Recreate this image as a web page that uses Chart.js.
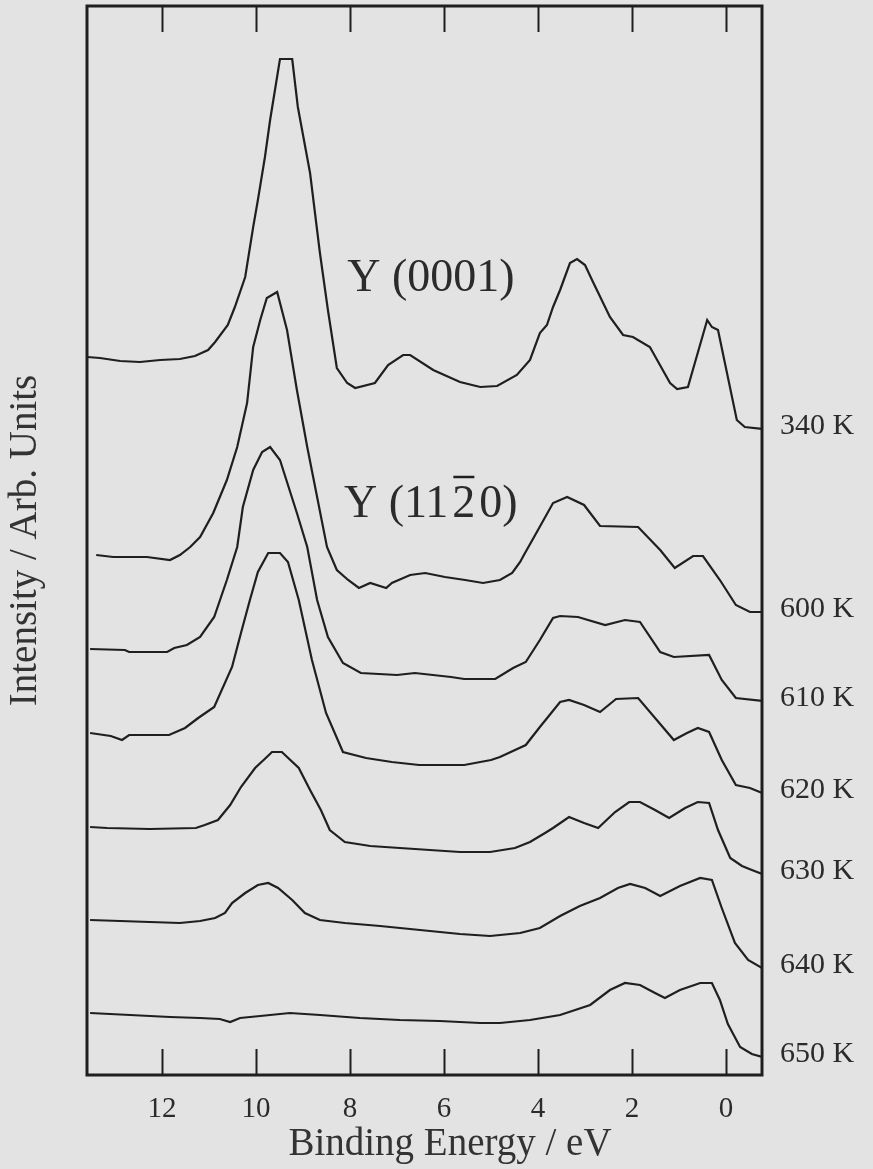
<!DOCTYPE html>
<html>
<head>
<meta charset="utf-8">
<script src="https://cdn.jsdelivr.net/npm/chart.js@4.4.1/dist/chart.umd.min.js"></script>
<style>
  html, body { margin: 0; padding: 0; background: #e3e3e3; }
  #wrap { position: relative; width: 873px; height: 1169px; }
</style>
</head>
<body>
<div id="wrap"><canvas id="xps" width="873" height="1169"></canvas></div>
<script>
// binding energy (eV) / intensity (arb. units, each trace offset)
var e340 = [13.6, 13.32, 12.89, 12.47, 12.04, 11.62, 11.3, 11.02, 10.87, 10.6, 10.45, 10.23, 10.06, 9.96, 9.81, 9.7, 9.49, 9.23, 9.11, 8.85, 8.64, 8.47, 8.28, 8.06, 7.89, 7.47, 7.19, 6.87, 6.72, 6.23, 5.66, 5.23, 4.87, 4.45, 4.17, 3.96, 3.81, 3.68, 3.53, 3.32, 3.17, 3.0, 2.83, 2.47, 2.19, 1.98, 1.62, 1.19, 1.04, 0.81, 0.4, 0.3, 0.17, -0.23, -0.4, -0.77];
var i340 = [72.3, 72.2, 71.9, 71.8, 72.0, 72.1, 72.4, 73.0, 73.8, 75.5, 77.3, 80.3, 85.3, 88.0, 92.3, 96.0, 102.1, 102.1, 97.3, 90.7, 82.7, 77.0, 71.2, 69.7, 69.2, 69.7, 71.5, 72.5, 72.5, 71.0, 69.8, 69.3, 69.4, 70.5, 72.0, 74.7, 75.5, 77.3, 79.0, 81.7, 82.1, 81.5, 79.8, 76.3, 74.5, 74.3, 73.3, 69.7, 69.1, 69.3, 76.0, 75.3, 75.0, 66.0, 65.3, 65.1];

var e600 = [13.4, 13.04, 12.32, 11.83, 11.62, 11.4, 11.19, 10.91, 10.62, 10.4, 10.19, 10.06, 9.91, 9.77, 9.55, 9.34, 9.13, 8.91, 8.7, 8.49, 8.28, 8.04, 7.81, 7.57, 7.23, 7.11, 6.72, 6.4, 5.98, 5.55, 5.17, 4.81, 4.55, 4.38, 4.3, 4.06, 3.68, 3.38, 3.02, 2.68, 1.87, 1.4, 1.09, 0.7, 0.49, 0.13, -0.21, -0.51, -0.77];
var i600 = [52.5, 52.3, 52.3, 52.0, 52.5, 53.3, 54.3, 56.7, 60.0, 63.3, 67.7, 73.3, 76.0, 78.2, 78.8, 75.0, 69.0, 63.3, 58.3, 53.3, 51.0, 50.0, 49.2, 49.7, 49.2, 49.7, 50.5, 50.7, 50.3, 50.0, 49.7, 50.0, 50.7, 51.8, 52.5, 54.5, 57.7, 58.3, 57.5, 55.4, 55.3, 53.0, 51.2, 52.4, 52.4, 50.0, 47.5, 46.8, 46.8];

var e610 = [13.53, 12.79, 12.7, 11.89, 11.74, 11.47, 11.19, 10.89, 10.62, 10.4, 10.28, 10.06, 9.87, 9.7, 9.49, 9.13, 8.91, 8.7, 8.47, 8.15, 7.77, 7.0, 6.62, 5.85, 5.57, 4.91, 4.53, 4.26, 3.96, 3.68, 3.53, 3.15, 2.57, 2.15, 1.83, 1.4, 1.11, 0.36, 0.09, -0.21, -0.77];
var i610 = [43.1, 43.0, 42.8, 42.8, 43.2, 43.5, 44.3, 46.3, 50.0, 53.3, 57.3, 61.0, 62.8, 63.3, 62.0, 56.7, 53.3, 48.0, 44.3, 41.7, 40.7, 40.5, 40.7, 40.3, 40.1, 40.1, 41.2, 41.8, 44.0, 46.2, 46.4, 46.3, 45.5, 46.0, 45.8, 42.8, 42.3, 42.5, 40.0, 38.2, 37.9];

var e620 = [13.53, 13.09, 12.85, 12.7, 11.85, 11.51, 11.23, 10.89, 10.51, 10.32, 10.13, 9.96, 9.74, 9.49, 9.32, 9.09, 8.81, 8.51, 8.15, 7.66, 7.11, 6.53, 5.57, 5.0, 4.81, 4.26, 3.96, 3.53, 3.34, 3.02, 2.68, 2.34, 1.87, 1.11, 0.83, 0.6, 0.36, 0.09, -0.21, -0.51, -0.77];
var i620 = [34.7, 34.4, 34.0, 34.5, 34.5, 35.2, 36.2, 37.3, 41.3, 44.7, 48.0, 50.8, 52.7, 52.7, 51.8, 48.0, 42.0, 36.7, 32.8, 32.2, 31.8, 31.5, 31.5, 32.0, 32.3, 33.5, 35.3, 37.8, 38.0, 37.5, 36.8, 38.1, 38.2, 34.0, 34.7, 35.2, 34.8, 32.0, 29.5, 29.2, 28.7];

var e630 = [13.53, 13.17, 12.26, 11.28, 11.09, 10.81, 10.55, 10.32, 10.02, 9.77, 9.66, 9.45, 9.09, 8.85, 8.62, 8.43, 8.11, 7.57, 6.94, 6.3, 5.66, 5.02, 4.49, 4.17, 3.85, 3.68, 3.34, 3.02, 2.72, 2.36, 2.06, 1.83, 1.51, 1.21, 0.87, 0.6, 0.36, 0.17, -0.09, -0.34, -0.55, -0.77];
var i630 = [25.3, 25.2, 25.1, 25.2, 25.5, 26.0, 27.5, 29.3, 31.2, 32.3, 32.8, 32.8, 31.2, 29.0, 27.0, 25.0, 23.8, 23.4, 23.2, 23.0, 22.8, 22.8, 23.2, 23.8, 24.7, 25.2, 26.3, 25.7, 25.2, 26.8, 27.8, 27.8, 27.0, 26.2, 27.2, 27.8, 27.7, 25.0, 22.2, 21.4, 21.0, 20.6];

var e640 = [13.53, 12.89, 12.26, 11.62, 11.19, 10.87, 10.66, 10.51, 10.23, 9.96, 9.74, 9.53, 9.23, 8.96, 8.64, 8.11, 7.36, 6.51, 5.66, 5.02, 4.38, 3.96, 3.53, 3.11, 2.68, 2.3, 2.04, 1.72, 1.4, 0.98, 0.55, 0.3, 0.09, -0.19, -0.47, -0.77];
var i640 = [16.0, 15.9, 15.8, 15.7, 15.9, 16.2, 16.7, 17.7, 18.7, 19.5, 19.7, 19.2, 18.0, 16.7, 16.0, 15.7, 15.4, 15.0, 14.6, 14.4, 14.7, 15.2, 16.4, 17.4, 18.2, 19.2, 19.6, 19.2, 18.4, 19.4, 20.2, 20.0, 17.2, 13.7, 12.0, 11.2];

var e650 = [13.53, 12.68, 11.83, 11.19, 10.77, 10.55, 10.34, 9.91, 9.28, 8.64, 7.79, 6.94, 6.09, 5.23, 4.81, 4.17, 3.53, 2.89, 2.47, 2.15, 1.83, 1.51, 1.3, 0.98, 0.55, 0.3, 0.13, -0.04, -0.3, -0.55, -0.77];
var i650 = [6.7, 6.5, 6.3, 6.2, 6.1, 5.8, 6.2, 6.4, 6.7, 6.5, 6.2, 6.0, 5.9, 5.7, 5.7, 6.0, 6.5, 7.5, 9.0, 9.7, 9.5, 8.7, 8.2, 9.0, 9.7, 9.7, 8.0, 5.6, 3.3, 2.6, 2.3];

var temps = ["340 K", "600 K", "610 K", "620 K", "630 K", "640 K", "650 K"];
var xTicks = [12, 10, 8, 6, 4, 2, 0];

var traces = [[e340, i340], [e600, i600], [e610, i610], [e620, i620], [e630, i630], [e640, i640], [e650, i650]];

var ink = "#1f1f1f";
var serif = '"Liberation Serif", "DejaVu Serif", serif';

var decor = {
  id: "decor",
  beforeDraw: function (c) {
    var ctx = c.ctx;
    ctx.save();
    ctx.fillStyle = "#e3e3e3";
    ctx.fillRect(0, 0, c.width, c.height);
    ctx.restore();
  },
  afterDatasetsDraw: function (c) {
    var ctx = c.ctx, a = c.chartArea, xs = c.scales.x, ys = c.scales.y;
    ctx.save();

    // frame + inward ticks top and bottom
    ctx.strokeStyle = ink;
    ctx.lineWidth = 3;
    ctx.strokeRect(a.left, a.top, a.right - a.left, a.bottom - a.top);
    ctx.lineWidth = 2;
    xTicks.forEach(function (t) {
      var px = Math.round(xs.getPixelForValue(t)) + 0.5;
      ctx.beginPath();
      ctx.moveTo(px, a.top);
      ctx.lineTo(px, a.top + 26);
      ctx.moveTo(px, a.bottom);
      ctx.lineTo(px, a.bottom - 26);
      ctx.stroke();
    });

    ctx.fillStyle = "#2b2b2b";
    ctx.textBaseline = "middle";

    // tick labels
    ctx.font = "29px " + serif;
    ctx.textAlign = "center";
    xTicks.forEach(function (t) {
      ctx.fillText(String(t), xs.getPixelForValue(t), a.bottom + 34);
    });

    // temperature labels at the end of each trace
    ctx.font = "30px " + serif;
    ctx.textAlign = "left";
    traces.forEach(function (tr, k) {
      var last = tr[1][tr[1].length - 1];
      ctx.fillText(temps[k], a.right + 18, ys.getPixelForValue(last) - 3);
    });

    // axis titles
    ctx.fillStyle = "#333";
    ctx.font = "39px " + serif;
    ctx.textAlign = "center";
    ctx.fillText("Binding Energy / eV", 450, a.bottom + 70);
    ctx.save();
    ctx.translate(26, (a.top + a.bottom) / 2);
    ctx.rotate(-Math.PI / 2);
    ctx.fillText("Intensity / Arb. Units", 0, 0);
    ctx.restore();

    // surface labels
    ctx.fillStyle = "#2b2b2b";
    ctx.font = "46px " + serif;
    var cx = xs.getPixelForValue(6.28);
    ctx.fillText("Y (0001)", cx, ys.getPixelForValue(80.1));

    var cy = ys.getPixelForValue(57.5);
    var parts = ["Y (11", "2", "0)"];
    var gap = 4;
    var ws = parts.map(function (p) { return ctx.measureText(p).width; });
    var x = cx - (ws[0] + ws[1] + ws[2] + 2 * gap) / 2;
    ctx.textAlign = "left";
    ctx.fillText(parts[0], x, cy);
    var x2 = x + ws[0] + gap;
    ctx.fillText(parts[1], x2, cy);
    ctx.fillText(parts[2], x2 + ws[1] + gap, cy);
    ctx.lineWidth = 2.5;
    ctx.beginPath();
    ctx.moveTo(x2 + 1, cy - 28);
    ctx.lineTo(x2 + ws[1] - 1, cy - 28);
    ctx.stroke();

    ctx.restore();
  }
};

new Chart(document.getElementById("xps"), {
  type: "line",
  data: {
    datasets: traces.map(function (tr) {
      return {
        data: tr[0].map(function (e, k) { return { x: e, y: tr[1][k] }; }),
        borderColor: ink,
        borderWidth: 2.2,
        pointRadius: 0,
        tension: 0,
        fill: false
      };
    })
  },
  options: {
    responsive: false,
    animation: false,
    devicePixelRatio: 1,
    layout: { padding: { left: 87, right: 111, top: 6, bottom: 94 } },
    plugins: { legend: { display: false }, tooltip: { enabled: false } },
    scales: {
      x: { type: "linear", reverse: true, min: -0.766, max: 13.596, display: false },
      y: { type: "linear", min: 0.5, max: 107.4, display: false }
    }
  },
  plugins: [decor]
});
</script>
</body>
</html>
